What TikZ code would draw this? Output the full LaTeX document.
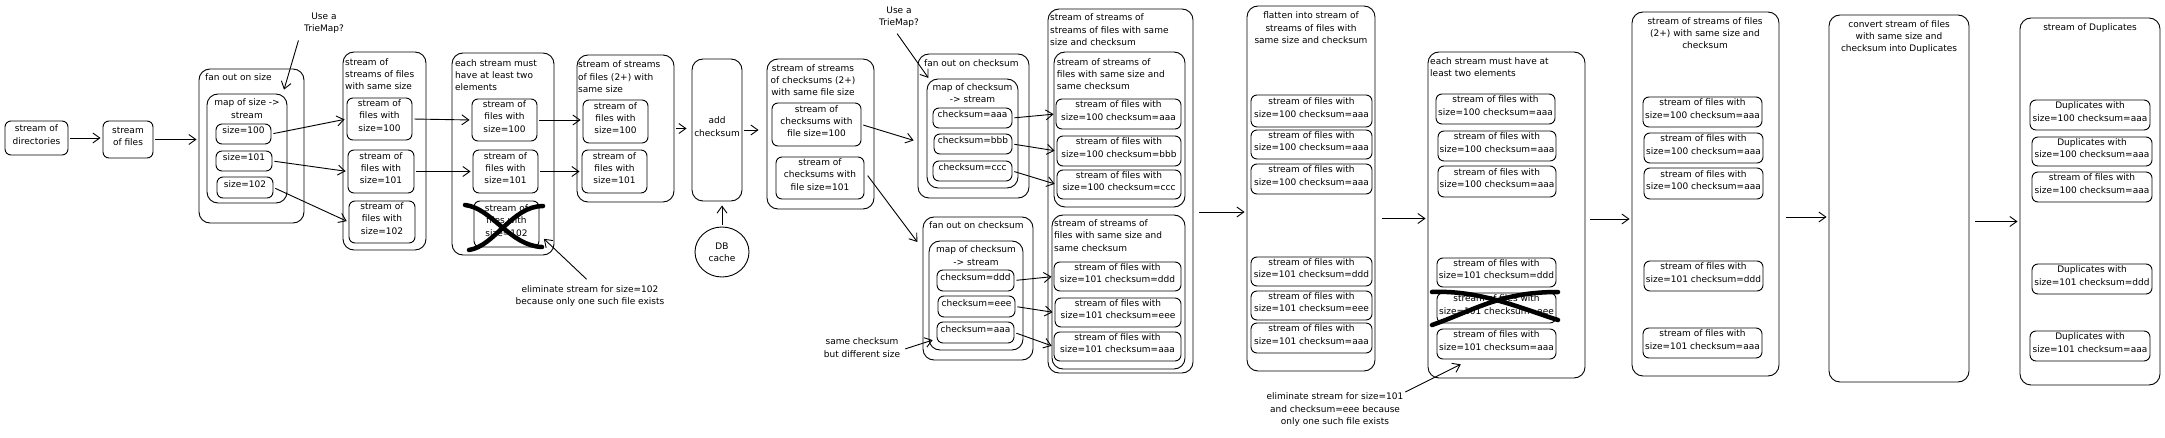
\documentclass[tikz,border=0pt]{standalone}
\usepackage{fontspec}
\setmainfont{DejaVu Sans}
\usetikzlibrary{arrows.meta,fit,calc,shapes.geometric}
\newcommand{\mkbox}[7][]{\node[box,#1,fit={(#3,#4) (#5,#6)}] (#2) {#7};}
\begin{document}
\begin{tikzpicture}[x=1pt,y=-1pt,
  font=\fontsize{9}{12.3}\selectfont,
  box/.style={draw,rounded corners=6pt,inner sep=0pt,align=center,line width=0.9pt},
  big/.style={rounded corners=11pt},
  lbl/.style={inner sep=0pt,align=left,anchor=west},
  ctr/.style={inner sep=0pt,align=center},
  arr/.style={-{Straight Barb[length=7pt,width=10pt]},line width=0.9pt,shorten <=2pt,shorten >=2pt},
  xout/.style={line width=4.5pt,line cap=round}]
\useasboundingbox (0,0) rectangle (2165,438);

% column 1
\mkbox{dirs}{5}{121}{68}{155}{stream of\\directories}
\mkbox{files}{103}{121}{153}{158}{stream\\of files}
\draw[arr] (dirs.east) -- (dirs.east -| files.west);

% fan out on size
\mkbox[big]{fan1}{199}{69}{304}{223}{}
\node[lbl] (tfan1) at (205,77.5) {fan out on size};
\mkbox[big]{map1}{207}{94}{287}{203}{}
\node[ctr] (tmap1) at (247,108.5) {map of size ->\\stream};
\mkbox{sz100}{216}{124}{271}{144}{size=100}
\mkbox{sz101}{216}{151}{272}{171}{size=101}
\mkbox{sz102}{217}{177}{273}{198}{size=102}
\draw[arr] (files.east) -- (files.east -| fan1.west);
\node[ctr] (note1) at (324,23) {Use a\\TrieMap?};
\draw[arr] ($(note1.south)+(-25,5)$) -- ($(map1.north east)+(-4,-2)$);

% stream of streams of files with same size
\mkbox[big]{ss}{343}{52}{426}{250}{}
\node[lbl] (tss) at (345,74) {stream of\\streams of files\\with same size};
\mkbox{ss100}{347}{98}{412}{140}{stream of\\files with\\size=100}
\mkbox{ss101}{348}{150}{414}{193}{stream of\\files with\\size=101}
\mkbox{ss102}{349}{201}{415}{243}{stream of\\files with\\size=102}
\draw[arr] (sz100.east) -- (ss100.west);
\draw[arr] (sz101.east) -- (ss101.west);
\draw[arr] (sz102.east) -- (ss102.west);

% each stream must have at least two elements
\mkbox[big]{two}{452}{53}{554}{255}{}
\node[lbl] (ttwo) at (455,75) {each stream must\\have at least two\\elements};
\mkbox{tw100}{472}{99}{537}{141}{stream of\\files with\\size=100}
\mkbox{tw101}{473}{150}{538}{193}{stream of\\files with\\size=101}
\mkbox{tw102}{474}{201}{539}{247}{stream of\\files with\\size=102}
\draw[arr] (ss100.east) -- (tw100.west);
\draw[arr] (ss101.east) -- (tw101.west);
\draw[xout] (465,205) .. controls (492,208) and (510,246) .. (542,247);
\draw[xout] (469,250) .. controls (495,246) and (512,206) .. (543,206);
\node[ctr] (note2) at (590,296.3) {eliminate stream for size=102\\because only one such file exists};
\draw[arr] ($(note2.north)+(-2,-5)$) -- ($(tw102.south east)+(3,-10)$);

% stream of streams of files (2+) with same size
\mkbox[big]{tp}{577}{55}{674}{202}{}
\node[lbl] (ttp) at (578,76.8) {stream of streams\\of files (2+) with\\same size};
\mkbox{tp100}{583}{100}{648}{143}{stream of\\files with\\size=100}
\mkbox{tp101}{582}{150}{647}{193}{stream of\\files with\\size=101}
\draw[arr] (tw100.east) -- (tw100.east -| tp100.west);
\draw[arr] (tw101.east) -- (tw101.east -| tp101.west);

% add checksum
\mkbox[big]{add}{692}{59}{742}{201}{add\\checksum}
\node[draw,ellipse,line width=0.9pt,minimum width=54,minimum height=50,inner sep=0pt,align=center] (db) at (722,252) {DB\\cache};
\draw[arr,shorten >=5pt] (tp.east) -- (tp.east -| add.west);
\draw[arr,shorten >=4pt] (db.north) -- (db.north |- add.south);

% stream of streams of checksums
\mkbox[big]{ck}{767}{59}{874}{209}{}
\node[ctr] (tck) at (813,80) {stream of streams\\of checksums (2+)\\with same file size};
\mkbox{ck100}{772}{103}{861}{146}{stream of\\checksums with\\file size=100}
\mkbox{ck101}{776}{157}{864}{199}{stream of\\checksums with\\file size=101}
\draw[arr,shorten >=8pt] (add.east) -- (add.east -| ck.west);

% fan out on checksum 1
\mkbox[big]{fo1}{918}{54}{1029}{198}{}
\node[lbl] (tfo1) at (924,62.7) {fan out on checksum};
\mkbox[big]{mapA}{927}{79}{1018}{188}{}
\node[ctr] (tmapA) at (972.5,93.3) {map of checksum\\-> stream};
\mkbox{ca}{933}{108}{1012}{128}{checksum=aaa}
\mkbox{cb}{934}{134}{1012}{154}{checksum=bbb}
\mkbox{cc}{933}{161}{1012}{181}{checksum=ccc}
\node[ctr] (note3) at (899,17.5) {Use a\\TrieMap?};
\draw[arr] ($(note3.south)+(-3,4)$) -- ($(mapA.north west)+(3,1)$);

% fan out on checksum 2
\mkbox[big]{fo2}{923}{217}{1033}{360}{}
\node[lbl] (tfo2) at (929,225) {fan out on checksum};
\mkbox[big]{mapB}{929}{241}{1023}{350}{}
\node[ctr] (tmapB) at (976,255.5) {map of checksum\\-> stream};
\mkbox{cd}{937}{270}{1014}{291}{checksum=ddd}
\mkbox{ce}{938}{296}{1015}{317}{checksum=eee}
\mkbox{ca2}{937}{322}{1014}{343}{checksum=aaa}
\node[ctr] (note4) at (862,347.5) {same checksum\\but different size};
\draw[arr] ($(note4.east)+(3,2)$) -- ($(ca2.south west)+(-2,-4)$);

\draw[arr] (ck100.east) -- ($(fo1.west)+(-2,15)$);
\draw[arr] ($(ck101.east)+(2,-4)$) -- ($(fo2.north west)+(-4,27)$);

% stream of streams of streams
\mkbox[big]{S}{1048}{9}{1193}{373}{}
\node[lbl] (tS) at (1050,29.7) {stream of streams of\\streams of files with same\\size and checksum};
\mkbox[big]{A}{1054}{52}{1185}{207}{}
\node[lbl] (tA) at (1056.7,74.2) {stream of streams of\\files with same size and\\same checksum};
\mkbox{A1}{1056}{99}{1181}{129}{stream of files with\\size=100 checksum=aaa}
\mkbox{A2}{1057}{136}{1181}{166}{stream of files with\\size=100 checksum=bbb}
\mkbox{A3}{1057}{170}{1181}{199}{stream of files with\\size=100 checksum=ccc}
\mkbox[big]{B}{1052}{215}{1185}{369}{}
\node[lbl] (tB) at (1054,235.6) {stream of streams of\\files with same size and\\same checksum};
\mkbox{B1}{1054}{262}{1181}{291}{stream of files with\\size=101 checksum=ddd}
\mkbox{B2}{1055}{298}{1181}{327}{stream of files with\\size=101 checksum=eee}
\mkbox{B3}{1054}{332}{1181}{361}{stream of files with\\size=101 checksum=aaa}
\draw[arr] (ca.east) -- (A1.west);
\draw[arr] (cb.east) -- (A2.west);
\draw[arr] (cc.east) -- (A3.west);
\draw[arr] (cd.east) -- (B1.west);
\draw[arr] (ce.east) -- (B2.west);
\draw[arr] (ca2.east) -- (B3.west);

% flatten
\mkbox[big]{flat}{1247}{6}{1375}{371}{}
\node[ctr] (tflat) at (1311,27.8) {flatten into stream of\\streams of files with\\same size and checksum};
\mkbox{F1}{1251}{95}{1372}{127}{stream of files with\\size=100 checksum=aaa}
\mkbox{F2}{1251}{130}{1372}{159}{stream of files with\\size=100 checksum=aaa}
\mkbox{F3}{1251}{164}{1372}{194}{stream of files with\\size=100 checksum=aaa}
\mkbox{F4}{1251}{257}{1372}{286}{stream of files with\\size=101 checksum=ddd}
\mkbox{F5}{1251}{291}{1372}{320}{stream of files with\\size=101 checksum=eee}
\mkbox{F6}{1251}{323}{1372}{353}{stream of files with\\size=101 checksum=aaa}
\coordinate (m1) at ($(S.east)+(4,21)$);
\draw[arr] (m1) -- (m1 -| flat.west);

% each stream must have at least two elements (2)
\mkbox[big]{two2}{1428}{52}{1585}{378}{}
\node[lbl] (ttwo2) at (1430,67.2) {each stream must have at\\least two elements};
\mkbox{E1}{1436}{94}{1555}{124}{stream of files with\\size=100 checksum=aaa}
\mkbox{E2}{1438}{131}{1556}{161}{stream of files with\\size=100 checksum=aaa}
\mkbox{E3}{1438}{166}{1556}{197}{stream of files with\\size=100 checksum=aaa}
\mkbox{E4}{1437}{258}{1556}{287}{stream of files with\\size=101 checksum=ddd}
\mkbox{E5}{1437}{293}{1556}{323}{stream of files with\\size=101 checksum=eee}
\mkbox{E6}{1437}{329}{1556}{359}{stream of files with\\size=101 checksum=aaa}
\draw[xout] (1432,292) .. controls (1480,290) and (1520,308) .. (1558,320);
\draw[xout] (1432,325) .. controls (1475,310) and (1500,292) .. (1558,292);
\coordinate (m2) at ($(flat.east)+(5,30)$);
\draw[arr] (m2) -- (m2 -| two2.west);
\node[ctr] (note5) at (1335,409.8) {eliminate stream for size=101\\and checksum=eee because\\only one such file exists};
\draw[arr] (note5.north east) -- ($(E6.south west)+(26,4)$);

% stream of streams of files (2+) with same size and checksum
\mkbox[big]{G}{1632}{12}{1779}{376}{}
\node[ctr] (tG) at (1705,33) {stream of streams of files\\(2+) with same size and\\checksum};
\mkbox{G1}{1643}{97}{1762}{127}{stream of files with\\size=100 checksum=aaa}
\mkbox{G2}{1644}{133}{1763}{163}{stream of files with\\size=100 checksum=aaa}
\mkbox{G3}{1644}{168}{1763}{199}{stream of files with\\size=100 checksum=aaa}
\mkbox{G4}{1644}{261}{1763}{291}{stream of files with\\size=101 checksum=ddd}
\mkbox{G5}{1643}{328}{1762}{358}{stream of files with\\size=101 checksum=aaa}
\coordinate (m3) at ($(two2.east)+(3,4)$);
\draw[arr] (m3) -- (m3 -| G.west);

% convert
\mkbox[big]{conv}{1829}{15}{1969}{382}{}
\node[ctr] (tconv) at (1899,37) {convert stream of files\\with same size and\\checksum into Duplicates};
\coordinate (m4) at ($(G.east)+(5,23)$);
\draw[arr] (m4) -- (m4 -| conv.west);

% stream of Duplicates
\mkbox[big]{dup}{2020}{18}{2160}{385}{}
\node[ctr] (tdup) at (2090,28.3) {stream of Duplicates};
\mkbox{D1}{2030}{100}{2150}{130}{Duplicates with\\size=100 checksum=aaa}
\mkbox{D2}{2032}{137}{2152}{166}{Duplicates with\\size=100 checksum=aaa}
\mkbox{D3}{2032}{172}{2152}{202}{stream of files with\\size=100 checksum=aaa}
\mkbox{D4}{2032}{264}{2152}{294}{Duplicates with\\size=101 checksum=ddd}
\mkbox{D5}{2030}{331}{2150}{361}{Duplicates with\\size=101 checksum=aaa}
\coordinate (m5) at ($(conv.east)+(4,23)$);
\draw[arr] (m5) -- (m5 -| dup.west);
\end{tikzpicture}
\end{document}
